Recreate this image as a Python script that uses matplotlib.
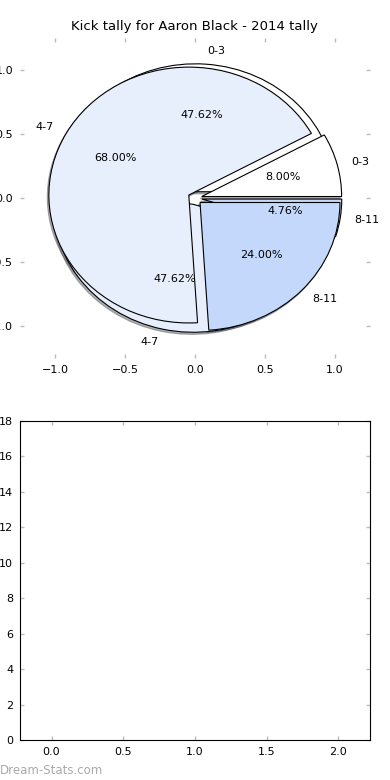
import matplotlib.pyplot as plt

# data
labels = ['0-3', '4-7', '8-11']
tally_a = [10, 10, 1]      # 47.62 / 47.62 / 4.76 %
tally_b = [2, 17, 6]       # 8 / 68 / 24 %
colors = ['#ffffff', '#e8effc', '#c4d8fc']
explode = [0.05, 0.05, 0.05]

plt.rcParams['font.size'] = 8

fig = plt.figure(figsize=(3.9, 7.8), dpi=100)
ax1 = fig.add_axes([0.0513, 0.541, 0.897, 0.410])
ax2 = fig.add_axes([0.0513, 0.0513, 0.897, 0.409])

wp = dict(edgecolor='black', linewidth=0.8)
shadow = dict(ox=-0.008, oy=-0.012, shade=0.6)
ax1.pie(tally_a, labels=labels, colors=colors, explode=explode,
        autopct='%1.2f%%', shadow=shadow, wedgeprops=wp)
ax1.pie(tally_b, labels=labels, colors=colors, explode=explode,
        autopct='%1.2f%%', shadow=shadow, wedgeprops=wp)
ax1.set_aspect('auto')
ax1.set_xlim(-1.25, 1.25)
ax1.set_ylim(-1.25, 1.25)
ax1.set_frame_on(False)
ax1.set_xticks([-1.0, -0.5, 0.0, 0.5, 1.0])
ax1.set_yticks([-1.0, -0.5, 0.0, 0.5, 1.0])
ax1.set_title('Kick tally for Aaron Black - 2014 tally', fontsize=9.5)

ax2.set_xlim(-0.22, 2.22)
ax2.set_ylim(0, 18)
ax2.set_xticks([0.0, 0.5, 1.0, 1.5, 2.0])
ax2.set_yticks(range(0, 19, 2))

for ax in (ax1, ax2):
    ax.tick_params(direction='in', top=True, right=True, color='#bbbbbb',
                   length=3, width=1, labelsize=8, pad=5)

fig.text(0.0, 0.004, 'Dream-Stats.com', color='#aaaaaa', fontsize=8.5,
         ha='left', va='bottom')

plt.savefig('out.png', dpi=100)
